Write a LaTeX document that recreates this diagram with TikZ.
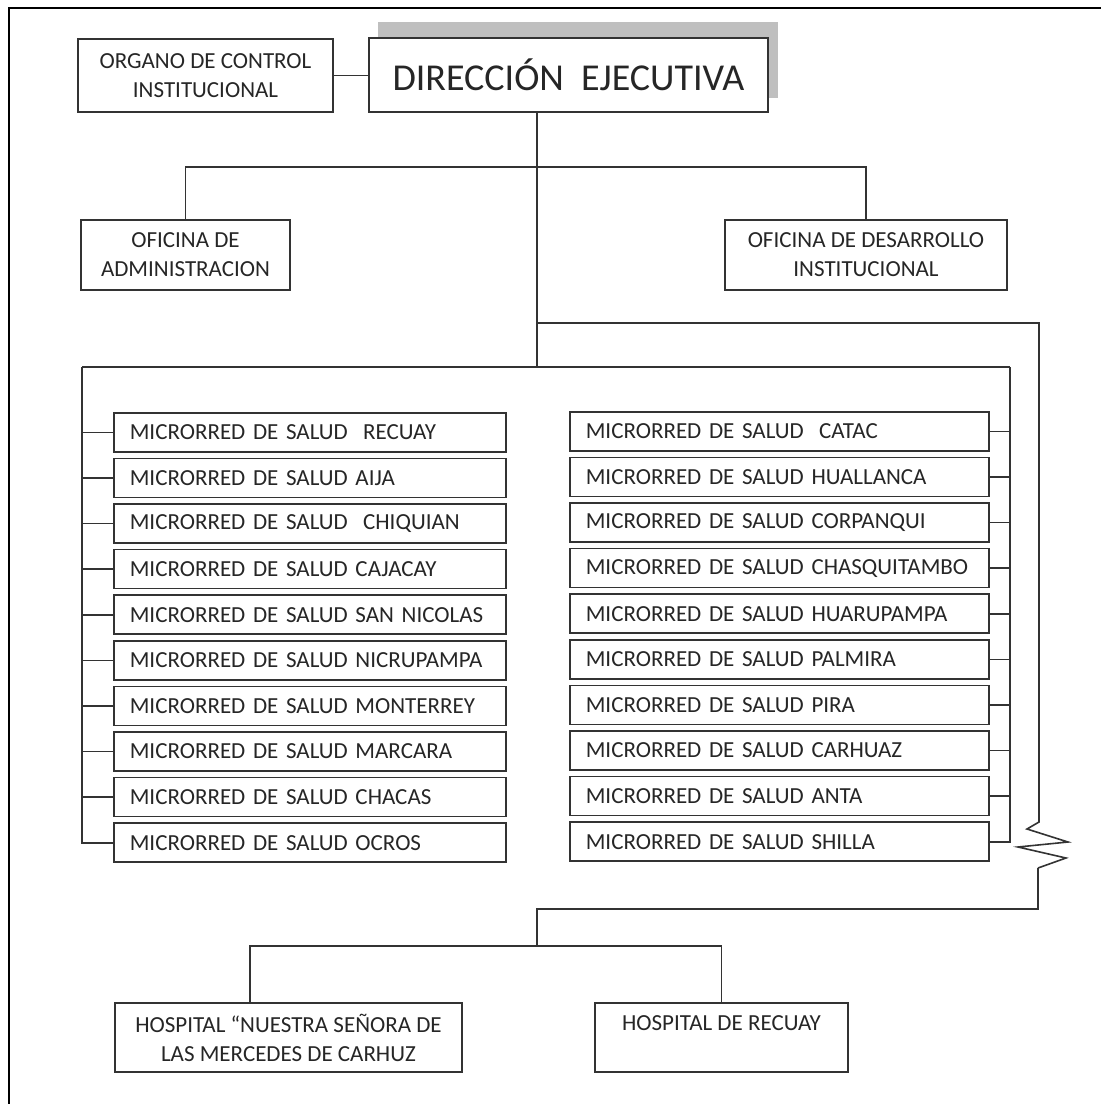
\documentclass[tikz,border=0pt]{standalone}
\usepackage{fontspec}
\setmainfont{Carlito}
\usetikzlibrary{calc}

\begin{document}
\begin{tikzpicture}[x=0.5pt,y=-0.5pt,
  unitbox/.style={draw=black!80, line width=0.8pt, fill=white, inner sep=0pt, align=center, text=black!85, font=\fontsize{11.5}{14.5}\selectfont},
  microL/.style={unitbox, anchor=north west, minimum height=19.5pt, inner xsep=8pt, align=left, text width=180pt},
  microR/.style={unitbox, anchor=north west, minimum height=19.5pt, inner xsep=8pt, align=left, text width=193.5pt},
  link/.style={draw=black!80, line width=0.8pt}]

\useasboundingbox (0,0) rectangle (1101,1104);

% Draw the frame
\draw[line width=1.2pt] (9,1104) -- (9,8) -- (1101,8);

% Draw the top units
\fill[black!25] (378,22) rectangle (778,98);
\node[unitbox, minimum width=199.5pt, minimum height=37pt, font=\fontsize{19}{22}\selectfont] (dirEjec) at (568.5,75) {DIRECCIÓN~~EJECUTIVA};
\node[unitbox, minimum width=127.5pt, minimum height=36.5pt] (orgControl) at (205.5,75.5) {ORGANO DE CONTROL\\INSTITUCIONAL};
\node[unitbox, minimum width=104.5pt, minimum height=35pt] (ofAdmin) at (185.5,255) {OFICINA DE\\ADMINISTRACION};
\node[unitbox, minimum width=141pt, minimum height=35pt] (ofDesarrollo) at (866,255) {OFICINA DE DESARROLLO\\INSTITUCIONAL};

% Add the microrredes, left column
\node[microL] (recuay) at (113,412) {MICRORRED DE SALUD~~RECUAY};
\node[microL] (aija) at (113,457.6) {MICRORRED DE SALUD AIJA};
\node[microL] (chiquian) at (113,503.2) {MICRORRED DE SALUD~~CHIQUIAN};
\node[microL] (cajacay) at (113,548.8) {MICRORRED DE SALUD CAJACAY};
\node[microL] (sannicolas) at (113,594.4) {MICRORRED DE SALUD SAN NICOLAS};
\node[microL] (nicrupampa) at (113,640) {MICRORRED DE SALUD NICRUPAMPA};
\node[microL] (monterrey) at (113,685.6) {MICRORRED DE SALUD MONTERREY};
\node[microL] (marcara) at (113,731.2) {MICRORRED DE SALUD MARCARA};
\node[microL] (chacas) at (113,776.8) {MICRORRED DE SALUD CHACAS};
\node[microL] (ocros) at (113,822.4) {MICRORRED DE SALUD OCROS};

% Add the microrredes, right column
\node[microR] (catac) at (569,411) {MICRORRED DE SALUD~~CATAC};
\node[microR] (huallanca) at (569,456.6) {MICRORRED DE SALUD HUALLANCA};
\node[microR] (corpanqui) at (569,502.2) {MICRORRED DE SALUD CORPANQUI};
\node[microR] (chasquitambo) at (569,547.8) {MICRORRED DE SALUD CHASQUITAMBO};
\node[microR] (huarupampa) at (569,593.4) {MICRORRED DE SALUD HUARUPAMPA};
\node[microR] (palmira) at (569,639) {MICRORRED DE SALUD PALMIRA};
\node[microR] (pira) at (569,684.6) {MICRORRED DE SALUD PIRA};
\node[microR] (carhuaz) at (569,730.2) {MICRORRED DE SALUD CARHUAZ};
\node[microR] (anta) at (569,775.8) {MICRORRED DE SALUD ANTA};
\node[microR] (shilla) at (569,821.4) {MICRORRED DE SALUD SHILLA};

% Add the hospitals
\node[unitbox, minimum width=173.5pt, minimum height=34.5pt] (hospCarhuaz) at (288.5,1037.5) {HOSPITAL ``NUESTRA SEÑORA DE\\LAS MERCEDES DE CARHUZ};
\node[unitbox, minimum width=126.5pt, minimum height=34.5pt] (hospRecuay) at (721.5,1037.5) {HOSPITAL DE RECUAY\\\phantom{LAS}};

% Bus points
\coordinate (trunkTop) at (537,112);
\coordinate (barOfi) at (537,167);
\coordinate (barHosp) at (537,323);
\coordinate (barMicro) at (537,367);
\coordinate (busL) at (82,367);
\coordinate (busR) at (1010,367);
\coordinate (zigTop) at (1039,822);
\coordinate (barLow) at (537,909);
\coordinate (hospSplit) at (537,946);

% Draw the connectors
\draw[link] (orgControl.east) -- (orgControl.east -| dirEjec.west);
\draw[link] (trunkTop) -- (barMicro);
\draw[link] (ofAdmin.north) |- (barOfi) -| (ofDesarrollo.north);
\draw[link] (busL) -- (busR);
\draw[link] (busL) |- (ocros.west);
\draw[link] (busR) |- (shilla.east);
\draw[link] (recuay.west) -- (recuay.west -| busL) (aija.west) -- (aija.west -| busL)
  (chiquian.west) -- (chiquian.west -| busL) (cajacay.west) -- (cajacay.west -| busL)
  (sannicolas.west) -- (sannicolas.west -| busL) (nicrupampa.west) -- (nicrupampa.west -| busL)
  (monterrey.west) -- (monterrey.west -| busL) (marcara.west) -- (marcara.west -| busL)
  (chacas.west) -- (chacas.west -| busL);
\draw[link] (catac.east) -- (catac.east -| busR) (huallanca.east) -- (huallanca.east -| busR)
  (corpanqui.east) -- (corpanqui.east -| busR) (chasquitambo.east) -- (chasquitambo.east -| busR)
  (huarupampa.east) -- (huarupampa.east -| busR) (palmira.east) -- (palmira.east -| busR)
  (pira.east) -- (pira.east -| busR) (carhuaz.east) -- (carhuaz.east -| busR)
  (anta.east) -- (anta.east -| busR);

% Draw the line to the hospitals with the break
\draw[link] (barHosp) -| (zigTop) -- ++(-12,7) -- ++(41,13) -- ++(-50,5) -- ++(48,11) -- ++(-28,10) coordinate (zigBot);
\draw[link] (zigBot) |- (barLow) -- (hospSplit);
\draw[link] ($(hospCarhuaz.north west)+(136,0)$) |- (hospSplit) -| (hospRecuay.north);

\end{tikzpicture}
\end{document}
